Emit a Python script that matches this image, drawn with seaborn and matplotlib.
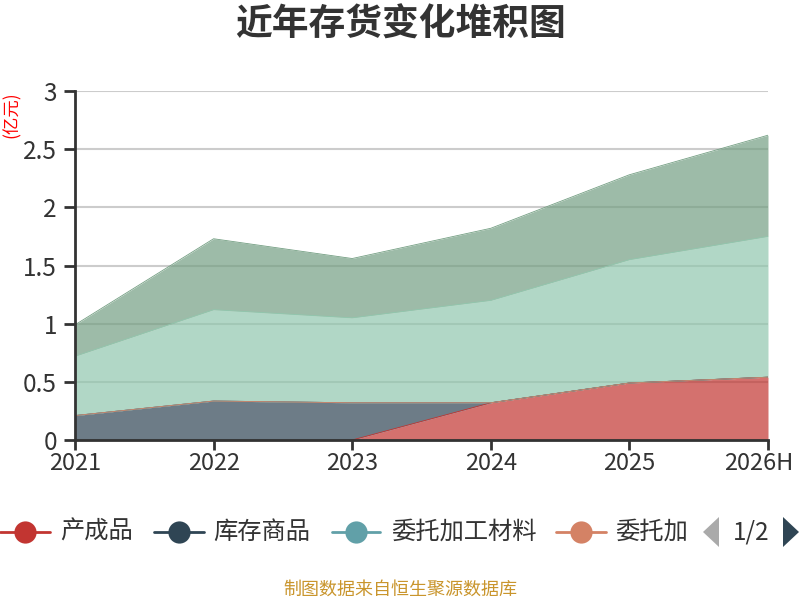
import numpy as np
import pandas as pd
import matplotlib
matplotlib.use("Agg")
import matplotlib.pyplot as plt
import matplotlib.transforms as mtransforms
from matplotlib.lines import Line2D
from matplotlib.patches import Polygon
import seaborn as sns

# 数据（单位：亿元）
years = ["2021", "2022", "2023", "2024", "2025", "2026H"]
chanchengpin = [np.nan, np.nan, 0.0, 0.32, 0.49, 0.54]     # 产成品
kucun_shangpin = [0.21, 0.335, 0.32, 0.0, 0.0, 0.0]         # 库存商品
weituo_cailiao = [0.0, 0.0, 0.0, 0.0, 0.0, 0.0]             # 委托加工材料
weituo_wuzi = [0.0, 0.0, 0.0, 0.0, 0.0, 0.0]                # 委托加工物资
yuancailiao = [0.51, 0.785, 0.73, 0.88, 1.06, 1.21]         # 原材料
zaichanpin = [0.27, 0.61, 0.51, 0.62, 0.73, 0.87]           # 在产品

series_names = ["产成品", "库存商品", "委托加工材料", "委托加工物资", "原材料", "在产品"]
series_vals = [chanchengpin, kucun_shangpin, weituo_cailiao, weituo_wuzi, yuancailiao, zaichanpin]
colors = ["#c23531", "#2f4554", "#61a0a8", "#d48265", "#91c7ae", "#749f83"]

sns.set_theme(style="white")
plt.rcParams["font.family"] = ["Noto Sans CJK SC", "DejaVu Sans"]
plt.rcParams["axes.unicode_minus"] = False

df = pd.DataFrame(dict(zip(series_names, series_vals)), index=years)
filled = df.fillna(0)
tops = filled.cumsum(axis=1)
bottoms = tops - filled
x = np.arange(len(years))

fig = plt.figure(figsize=(8, 6), dpi=100)
ax = fig.add_axes([75 / 800, 1 - 440 / 600, (768 - 75) / 800, (440 - 91) / 600])

for name, c in zip(series_names, colors):
    valid = df[name].notna().values
    ax.fill_between(x, bottoms[name].values, tops[name].values, where=valid,
                    color=c, alpha=0.7, linewidth=0, zorder=2)

# 各系列顶部细线
line_df = tops.reset_index().melt(id_vars="index", var_name="系列", value_name="值")
line_df["x"] = line_df["index"].map({y: i for i, y in enumerate(years)})
for name, c in zip(series_names, colors):
    sub = line_df[line_df["系列"] == name]
    sub = sub[df[name].notna().values]
    sns.lineplot(data=sub, x="x", y="值", color=c, linewidth=0.6, ax=ax,
                 legend=False, zorder=3)

ax.set_xlim(0, len(years) - 1)
ax.set_ylim(0, 3)
ax.set_xticks(x)
ax.set_xticklabels(years)
ax.set_yticks([0, 0.5, 1, 1.5, 2, 2.5, 3])
ax.set_yticklabels(["0", "0.5", "1", "1.5", "2", "2.5", "3"])
ax.set_xlabel("")
ax.set_ylabel("")
ax.grid(axis="y", color="#cccccc", linewidth=1.5, zorder=1)
ax.set_axisbelow(True)
for side in ["top", "right"]:
    ax.spines[side].set_visible(False)
for side in ["left", "bottom"]:
    ax.spines[side].set_color("#333333")
    ax.spines[side].set_linewidth(2)
    ax.spines[side].set_zorder(5)
ax.tick_params(axis="x", direction="out", length=7, width=2, color="#333333",
               labelsize=17, labelcolor="#333333", pad=2)
ax.tick_params(axis="y", direction="out", length=8, width=2, color="#333333",
               labelsize=17.5, labelcolor="#333333", pad=5)
ax.tick_params(axis="x", bottom=True)
ax.tick_params(axis="y", left=True)

# 最后一个刻度标签向左收一点，避免超出画布
last = ax.get_xticklabels()[-1]
last.set_transform(last.get_transform() +
                   mtransforms.ScaledTranslation(-9 / 100, 0, fig.dpi_scale_trans))

# 标题与单位
fig.text(0.5, 1 - 25 / 600, "近年存货变化堆积图", ha="center", va="center",
         fontsize=26.5, fontweight="bold", color="#333333")
fig.text(12 / 800, 1 - 115 / 600, "(亿元)", rotation=90, ha="center", va="center",
         fontsize=12.5, color="#ff0000")

# 图例（第1页）
ly = 1 - 532 / 600
legend_items = [
    ("产成品", colors[0], 0, 50, 60),
    ("库存商品", colors[1], 154, 204, 213),
    ("委托加工材料", colors[2], 332, 380, 391),
    ("委托加", colors[3], 556, 606, 615),
]
for label, c, x0, x1, tx in legend_items:
    fig.add_artist(Line2D([x0 / 800, x1 / 800], [ly, ly], transform=fig.transFigure,
                          color=c, linewidth=2))
    fig.add_artist(Line2D([(x0 + x1) / 2 / 800], [ly], transform=fig.transFigure,
                          marker="o", markersize=16, color=c, markeredgewidth=0))
    fig.text(tx / 800, ly, label, ha="left", va="center", fontsize=17.5, color="#333333")

# 翻页器
fig.add_artist(Polygon([[719 / 800, ly + 15 / 600], [719 / 800, ly - 15 / 600],
                        [703 / 800, ly]], closed=True, transform=fig.transFigure,
                       facecolor="#aaaaaa", edgecolor="none"))
fig.text(751 / 800, ly, "1/2", ha="center", va="center", fontsize=17.5, color="#333333")
fig.add_artist(Polygon([[783 / 800, ly + 15 / 600], [783 / 800, ly - 15 / 600],
                        [799 / 800, ly]], closed=True, transform=fig.transFigure,
                       facecolor="#2f4554", edgecolor="none"))

fig.text(0.5, 1 - 590 / 600, "制图数据来自恒生聚源数据库", ha="center", va="center",
         fontsize=13, color="#c9952c")

fig.savefig("out.png", dpi=100)
